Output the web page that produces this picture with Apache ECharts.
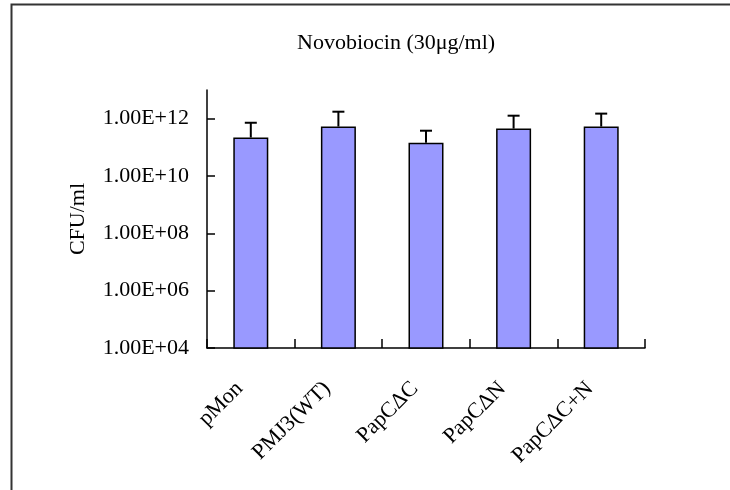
<!DOCTYPE html>
<html>
<head>
<meta charset="utf-8">
<script src="https://cdn.jsdelivr.net/npm/echarts@6/dist/echarts.min.js"></script>
<style>
  html, body { margin: 0; padding: 0; background: #fff; }
  #chart { width: 730px; height: 490px; }
</style>
</head>
<body>
<div id="chart"></div>
<script>
// Strains tested on novobiocin plates
const strains = ['pMon', 'PMJ3(WT)', 'PapC\u0394C', 'PapC\u0394N', 'PapC\u0394C+N'];
// Mean CFU/ml per strain
const cfuMean = [2.2e11, 5.3e11, 1.45e11, 4.5e11, 5.3e11];
// Upper end of the error bar (mean + SD)
const cfuUpper = [7.2e11, 1.75e12, 3.8e11, 1.27e12, 1.5e12];
// Labelled ticks on the log axis
const yTicks = [1e4, 1e6, 1e8, 1e10, 1e12];

const FONT = '"Liberation Serif", "Times New Roman", serif';

function sciLabel(v) {
  const e = Math.round(Math.log10(v));
  return '1.00E+' + String(e).padStart(2, '0');
}

const chart = echarts.init(document.getElementById('chart'), null, { renderer: 'canvas' });

chart.setOption({
  animation: false,
  backgroundColor: '#fff',
  title: {
    text: 'Novobiocin (30\u03bcg/ml)',
    left: 297,
    top: 32,
    padding: 0,
    textStyle: { fontFamily: FONT, fontSize: 22, fontWeight: 'normal', color: '#000' }
  },
  graphic: [{
    type: 'polyline',
    shape: { points: [[11.5, 490], [11.5, 4.5], [731, 4.5]] },
    style: { stroke: '#333', lineWidth: 2, fill: null },
    silent: true
  }],
  grid: { left: 207, top: 90, right: 85, bottom: 142, containLabel: false },
  xAxis: {
    type: 'category',
    data: strains,
    axisLine: { lineStyle: { color: '#000', width: 1.5 } },
    axisTick: { show: true, inside: true, length: 9, alignWithLabel: false, lineStyle: { color: '#000', width: 1.5 } },
    axisLabel: { rotate: 45, margin: 26, padding: [0, 16, 0, 0], fontFamily: FONT, fontSize: 22, color: '#000', interval: 0 },
    splitLine: { show: false }
  },
  yAxis: {
    type: 'log',
    logBase: 10,
    min: 1e4,
    max: 1e13,
    name: 'CFU/ml',
    nameLocation: 'middle',
    nameGap: 118,
    nameRotate: 90,
    nameTextStyle: { fontFamily: FONT, fontSize: 22, color: '#000' },
    axisLine: { show: true, lineStyle: { color: '#000', width: 1.5 } },
    axisTick: { show: true, inside: true, length: 8, customValues: yTicks, lineStyle: { color: '#000', width: 1.5 } },
    axisLabel: { margin: 18, fontFamily: FONT, fontSize: 22, color: '#000', customValues: yTicks, formatter: sciLabel },
    splitLine: { show: false },
    minorTick: { show: false }
  },
  series: [
    {
      type: 'bar',
      data: cfuMean,
      barWidth: 35,
      itemStyle: { color: '#9999ff', borderColor: '#000', borderWidth: 1.5 },
      z: 2
    },
    {
      type: 'custom',
      z: 3,
      data: strains.map((s, i) => [i, cfuMean[i], cfuUpper[i]]),
      renderItem: function (params, api) {
        const top = api.coord([api.value(0), api.value(1)]);
        const hi = api.coord([api.value(0), api.value(2)]);
        const cap = 6;
        const st = { stroke: '#000', lineWidth: 2 };
        return {
          type: 'group',
          children: [
            { type: 'line', shape: { x1: top[0], y1: top[1], x2: hi[0], y2: hi[1] }, style: st },
            { type: 'line', shape: { x1: hi[0] - cap, y1: hi[1], x2: hi[0] + cap, y2: hi[1] }, style: st }
          ]
        };
      }
    }
  ]
});
</script>
</body>
</html>
